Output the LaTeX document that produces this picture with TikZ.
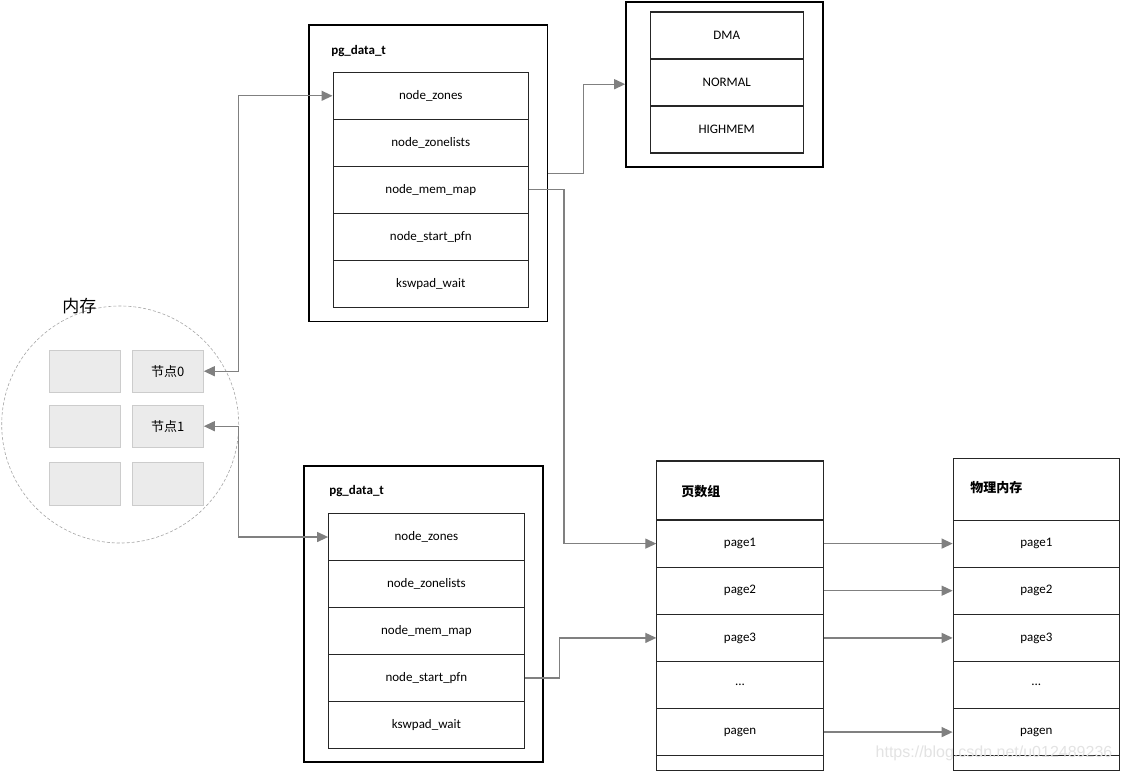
\documentclass[tikz,border=0pt]{standalone}
\usepackage{fontspec}
\setmainfont{Carlito}
\newfontfamily\cjk{Noto Sans CJK SC}
\newfontfamily\wmfont{Liberation Sans}
\usetikzlibrary{positioning,arrows.meta}
\tikzset{
  every picture/.style={line width=0.6pt},
  frame/.style={draw=black,rectangle,line width=1.7pt},
  cell/.style={draw=black!85,rectangle,line width=1.1pt,align=center,font=\fontsize{13}{15}\selectfont},
  pgrow/.style={cell,minimum width=195.5pt,minimum height=47pt},
  zrow/.style={cell,minimum width=153.3pt,minimum height=47pt},
  prow/.style={cell,minimum width=166.3pt,minimum height=47.1pt},
  ttl/.style={font=\fontsize{13}{15}\selectfont\bfseries,inner sep=1pt,anchor=west},
  cttl/.style={font=\cjk\fontsize{13}{15}\selectfont\bfseries,inner sep=1pt,anchor=west},
  memblk/.style={draw=gray!40,fill=gray!16,rectangle,line width=1pt,minimum width=71pt,minimum height=42.3pt,font=\cjk\fontsize{13}{15}\selectfont},
  link/.style={-{Triangle[length=11pt,width=10pt]},draw=black!50,line width=1.3pt},
  dlink/.style={{Triangle[length=11pt,width=10pt]}-{Triangle[length=11pt,width=10pt]},draw=black!50,line width=1.3pt},
}

\begin{document}
\begin{tikzpicture}[x=1pt,y=-1pt]
\path[fill=white,use as bounding box] (0,0) rectangle (1121,773);
% memory with its nodes
\node[draw=gray!70,dash pattern=on 3pt off 2pt,line width=0.6pt,circle,minimum size=237pt] (MEM) at (120.2,424.5) {};
\node[font=\cjk\fontsize{17}{19}\selectfont,anchor=west,inner sep=0pt] (MEMT) at (62,306) {内存};
\node[memblk] (M1) at (85.4,371.2) {};
\node[memblk] (N0) at (167.8,371.2) {节点0};
\node[memblk] (M2) at (85.4,426.2) {};
\node[memblk] (N1) at (167.8,426.2) {节点1};
\node[memblk] (M3) at (85.4,484) {};
\node[memblk] (M4) at (167.8,484) {};
% first pg_data_t
\node[frame,minimum width=238.5pt,minimum height=296.5pt] (P0) at (428.3,173.3) {};
\node[ttl] (P0T) at (330,51) {pg\_data\_t};
\node[pgrow] (A1) at (430.8,95.8) {node\_zones};
\node[pgrow] (A2) at (430.8,142.8) {node\_zonelists};
\node[pgrow] (A3) at (430.8,189.8) {node\_mem\_map};
\node[pgrow] (A4) at (430.8,236.8) {node\_start\_pfn};
\node[pgrow] (A5) at (430.8,283.8) {kswpad\_wait};
% second pg_data_t
\node[frame,minimum width=238.4pt,minimum height=296pt] (P1) at (423.5,614) {};
\node[ttl] (P1T) at (328,491) {pg\_data\_t};
\node[pgrow] (C1) at (426.4,537) {node\_zones};
\node[pgrow] (C2) at (426.4,584) {node\_zonelists};
\node[pgrow] (C3) at (426.4,631) {node\_mem\_map};
\node[pgrow] (C4) at (426.4,678) {node\_start\_pfn};
\node[pgrow] (C5) at (426.4,725) {kswpad\_wait};
% zones
\node[frame,minimum width=196.7pt,minimum height=165pt] (Z) at (724.4,84.2) {};
\node[zrow] (Z1) at (726.7,35.5) {DMA};
\node[zrow] (Z2) at (726.7,82.5) {NORMAL};
\node[zrow] (Z3) at (726.7,129.5) {HIGHMEM};
% page array
\node[cell,minimum width=166.3pt,minimum height=59pt] (PA) at (740,490.5) {};
\node[cttl] (PAT) at (680,491.7) {页数组};
\node[prow] (PA1) at (740,543.6) {page1};
\node[prow] (PA2) at (740,590.7) {page2};
\node[prow] (PA3) at (740,637.9) {page3};
\node[prow] (PA4) at (740,685) {...};
\node[prow] (PA5) at (740,732.1) {pagen};
\node[cell,minimum width=166.3pt,minimum height=15pt] (PA6) at (740,763.2) {};
% physical memory
\node[cell,minimum width=166pt,minimum height=61.7pt] (PM) at (1036.3,489.2) {};
\node[cttl] (PMT) at (969,488) {物理内存};
\node[prow] (PM1) at (1036.3,543.6) {page1};
\node[prow] (PM2) at (1036.3,590.7) {page2};
\node[prow] (PM3) at (1036.3,637.9) {page3};
\node[prow] (PM4) at (1036.3,685) {...};
\node[prow] (PM5) at (1036.3,732.1) {pagen};
\node[cell,minimum width=166pt,minimum height=15pt] (PM6) at (1036.3,763.2) {};
% links
\draw[dlink] (N0.east) -- ++(35,0) |- (A1.west);
\draw[dlink] (N1.east) -- ++(35,0) |- (C1.west);
\draw[link] (P0.east) -- ++(35,0) |- (Z.west);
\draw[link] (A3.east) -- ++(35,0) |- (PA1.west);
\draw[link] (C4.east) -- ++(35,0) |- (PA3.west);
\draw[link] (PA1.east) -- (PM1.west);
\draw[link] (PA2.east) -- (PM2.west);
\draw[link] (PA3.east) -- (PM3.west);
\draw[link] (PA5.east) -- (PM5.west);
% watermark
\node[font=\wmfont\fontsize{16}{18}\selectfont,text=gray!22] (WM) at (994,753) {https://blog.csdn.net/u012489236};
\end{tikzpicture}
\end{document}
